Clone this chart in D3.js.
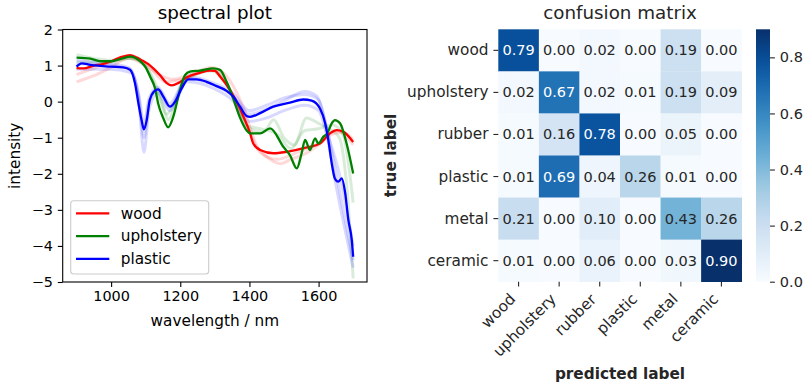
<!DOCTYPE html>
<html><head><meta charset="utf-8">
<script src="https://cdn.jsdelivr.net/npm/d3@7"></script>
<style>
body{margin:0;background:#fff}
svg{display:block}
text{font-family:"DejaVu Sans",sans-serif}
</style>
</head><body>
<svg id="c" width="810" height="387"></svg>
<script>
// ---------------- DATA ----------------
// spectral plot: mean spectra [wavelength nm, intensity]
const woodMean = [[900,0.93],[920,0.92],[950,1.0],[975,1.04],[1000,1.12],[1030,1.24],[1055,1.29],[1075,1.22],[1090,1.14],[1113,1.0],[1141,0.74],[1160,0.52],[1175,0.45],[1195,0.52],[1218,0.67],[1257,0.8],[1286,0.86],[1300,0.85],[1315,0.7],[1344,0.32],[1373,-0.2],[1382,-0.4],[1402,-0.88],[1411,-1.16],[1431,-1.34],[1469,-1.43],[1508,-1.39],[1566,-1.27],[1604,-1.16],[1633,-0.88],[1652,-0.79],[1671,-0.83],[1700,-1.12]];
const upholsteryMean = [[900,1.22],[940,1.19],[970,1.12],[1000,1.12],[1030,1.19],[1055,1.25],[1084,1.12],[1100,0.95],[1113,0.69],[1127,0.37],[1136,-0.05],[1151,-0.46],[1165,-0.71],[1180,-0.41],[1199,0.32],[1214,0.74],[1228,0.83],[1257,0.86],[1296,0.92],[1315,0.88],[1334,0.55],[1353,0.09],[1373,-0.45],[1392,-0.8],[1402,-0.88],[1431,-0.88],[1460,-0.74],[1498,-1.25],[1517,-1.48],[1537,-1.85],[1551,-1.43],[1561,-1.06],[1575,-1.34],[1590,-1.02],[1599,-1.16],[1614,-0.97],[1625,-0.88],[1638,-0.6],[1647,-0.51],[1662,-0.6],[1681,-1.16],[1700,-1.99]];
const plasticMean = [[900,0.97],[915,1.06],[940,1.02],[997,0.97],[1035,0.95],[1055,0.88],[1069,0.51],[1079,-0.05],[1088,-0.51],[1095,-0.77],[1103,-0.51],[1112,0.05],[1124,0.28],[1136,0.34],[1151,0.14],[1170,-0.14],[1185,0.0],[1204,0.37],[1223,0.62],[1247,0.62],[1276,0.55],[1305,0.43],[1334,0.3],[1353,0.14],[1373,-0.14],[1392,-0.4],[1402,-0.42],[1431,-0.32],[1469,-0.14],[1517,-0.03],[1556,0.06],[1580,0.03],[1604,-0.19],[1619,-0.6],[1628,-1.06],[1638,-1.71],[1647,-2.13],[1657,-2.22],[1667,-2.13],[1677,-2.54],[1686,-3.28],[1696,-3.84],[1700,-4.3]];
// faint individual spectra (estimated)
const woodFaintA = [[900,0.55],[950,0.72],[1000,0.95],[1050,1.2],[1100,1.0],[1150,0.7],[1180,0.62],[1220,0.72],[1290,0.95],[1330,0.75],[1380,-0.1],[1420,-1.2],[1460,-1.6],[1490,-1.72],[1520,-1.6],[1560,-1.45],[1600,-1.2],[1640,-0.9],[1670,-0.85],[1700,-1.05]];
const woodFaintB = [[900,0.75],[1000,1.1],[1050,1.25],[1100,1.05],[1160,0.55],[1200,0.6],[1290,0.9],[1340,0.4],[1390,-0.6],[1430,-1.4],[1480,-1.6],[1540,-1.4],[1600,-1.15],[1650,-0.8],[1700,-1.2]];
const upholsteryFaintA = [[900,1.3],[950,1.2],[1000,1.15],[1050,1.2],[1090,1.1],[1110,0.85],[1130,0.45],[1150,-0.1],[1165,-0.5],[1180,-0.25],[1200,0.3],[1230,0.75],[1290,0.9],[1330,0.6],[1370,-0.3],[1400,-0.75],[1440,-0.85],[1470,-0.5],[1500,-1.0],[1530,-1.2],[1565,-0.45],[1600,-0.6],[1630,-0.75],[1660,-1.0],[1680,-2.2],[1700,-4.9]];
const upholsteryFaintB = [[900,1.1],[1000,1.1],[1060,1.2],[1100,0.95],[1120,0.6],[1140,0.1],[1160,-0.35],[1180,-0.1],[1210,0.55],[1290,0.85],[1340,0.4],[1390,-0.65],[1430,-0.75],[1480,-0.9],[1520,-1.3],[1560,-0.8],[1600,-0.75],[1640,-0.65],[1670,-0.9],[1700,-2.8]];
const plasticFaintA = [[900,1.15],[950,1.1],[1050,0.95],[1080,0.2],[1095,-0.6],[1110,0.1],[1135,0.4],[1170,-0.05],[1220,0.7],[1300,0.5],[1350,0.25],[1400,-0.25],[1450,-0.1],[1500,0.1],[1560,0.2],[1600,0.05],[1630,-1.0],[1660,-2.0],[1700,-4.0]];
const plasticFaintB = [[900,0.9],[1000,0.9],[1060,0.8],[1080,0.0],[1095,-1.4],[1110,-0.2],[1135,0.25],[1170,-0.25],[1220,0.55],[1300,0.35],[1350,0.05],[1400,-0.55],[1450,-0.45],[1500,-0.25],[1560,-0.1],[1600,-0.25],[1625,-1.0],[1650,-2.3],[1700,-4.6]];
const plasticFaintC = [[900,1.05],[1000,1.0],[1055,0.9],[1080,0.1],[1095,-1.0],[1110,0.0],[1135,0.35],[1170,-0.15],[1220,0.65],[1300,0.45],[1350,0.18],[1400,-0.35],[1450,-0.2],[1500,0.02],[1560,0.28],[1595,0.15],[1625,-0.8],[1655,-2.2],[1700,-4.4]];
const spectralClasses = ["wood","upholstery","plastic"];
const spectralXTicks = [1000,1200,1400,1600];
const spectralYTicks = [-5,-4,-3,-2,-1,0,1,2];

// confusion matrix
const trueLabels = ["wood","upholstery","rubber","plastic","metal","ceramic"];
const predLabels = ["wood","upholstery","rubber","plastic","metal","ceramic"];
const confusion = [
  [0.79,0.00,0.02,0.00,0.19,0.00],
  [0.02,0.67,0.02,0.01,0.19,0.09],
  [0.01,0.16,0.78,0.00,0.05,0.00],
  [0.01,0.69,0.04,0.26,0.01,0.00],
  [0.21,0.00,0.10,0.00,0.43,0.26],
  [0.01,0.00,0.06,0.00,0.03,0.90]
];
const colorbarTicks = [0.0,0.2,0.4,0.6,0.8];
const colorMax = 0.90;

// ---------------- DRAW ----------------
const svg = d3.select("#c");
const F = "DejaVu Sans";

// ===== spectral plot =====
const L=62.7, R=367, T=29.5, B=282;
const x = d3.scaleLinear().domain([860,1740]).range([L,R]);
const y = d3.scaleLinear().domain([-5,2]).range([B,T]);
svg.append("clipPath").attr("id","clipS").append("rect").attr("x",L).attr("y",T).attr("width",R-L).attr("height",B-T);
const line = d3.line().x(d=>x(d[0])).y(d=>y(d[1])).curve(d3.curveMonotoneX);
const colors = {wood:"#ff0000", upholstery:"#008000", plastic:"#0000ff"};
const faint = [[woodFaintA,"wood"],[woodFaintB,"wood"],[upholsteryFaintA,"upholstery"],[upholsteryFaintB,"upholstery"],[plasticFaintA,"plastic"],[plasticFaintB,"plastic"],[plasticFaintC,"plastic"]];
const gl = svg.append("g").attr("clip-path","url(#clipS)");
faint.forEach(([d,c])=>{
  gl.append("path").attr("d",line(d)).attr("fill","none").attr("stroke",colors[c])
    .attr("stroke-width",3).attr("stroke-opacity",0.15).attr("stroke-linejoin","round");
});
[[woodMean,"wood"],[upholsteryMean,"upholstery"],[plasticMean,"plastic"]].forEach(([d,c])=>{
  gl.append("path").attr("d",line(d)).attr("fill","none").attr("stroke",colors[c])
    .attr("stroke-width",2.3).attr("stroke-linejoin","round");
});
// frame
svg.append("rect").attr("x",L).attr("y",T).attr("width",R-L).attr("height",B-T)
  .attr("fill","none").attr("stroke","#000").attr("stroke-width",1.1);
// axes
const xa = svg.append("g").attr("transform",`translate(0,${B})`)
  .call(d3.axisBottom(x).tickValues(spectralXTicks).tickSize(4.9).tickPadding(3.5).tickFormat(d3.format("d")));
xa.select(".domain").remove();
xa.selectAll("line").attr("stroke","#000").attr("stroke-width",1.1);
xa.selectAll("text").attr("font-family",F).attr("font-size",14.4).attr("fill","#000");
const ya = svg.append("g").attr("transform",`translate(${L},0)`)
  .call(d3.axisLeft(y).tickValues(spectralYTicks).tickSize(4.9).tickPadding(4.9).tickFormat(d=>d<0?"\u2212"+Math.abs(d):d));
ya.select(".domain").remove();
ya.selectAll("line").attr("stroke","#000").attr("stroke-width",1.1);
ya.selectAll("text").attr("font-family",F).attr("font-size",14.4).attr("fill","#000");
svg.append("text").attr("x",(L+R)/2).attr("y",19).attr("text-anchor","middle").attr("font-size",18.3).text("spectral plot");
svg.append("text").attr("x",(L+R)/2).attr("y",326).attr("text-anchor","middle").attr("font-size",15.3).text("wavelength / nm");
svg.append("text").attr("transform",`translate(20,${(T+B)/2}) rotate(-90)`).attr("text-anchor","middle").attr("font-size",15.3).text("intensity");
// legend
const lg = svg.append("g");
lg.append("rect").attr("x",70.7).attr("y",200.7).attr("width",138).attr("height",73.3).attr("rx",3)
  .attr("fill","#fff").attr("fill-opacity",0.8).attr("stroke","#cccccc").attr("stroke-width",1.1);
spectralClasses.forEach((c,i)=>{
  const ly = 213.3 + i*22.8;
  lg.append("line").attr("x1",76).attr("x2",109.3).attr("y1",ly).attr("y2",ly).attr("stroke",colors[c]).attr("stroke-width",2.2);
  lg.append("text").attr("x",120.7).attr("y",ly+5.3).attr("font-size",15.3).text(c);
});

// ===== confusion matrix =====
const HX0=498.3, HX1=741.7, HY0=29.3, HY1=281.7;
const hx = d3.scaleBand().domain(predLabels).range([HX0,HX1]);
const hy = d3.scaleBand().domain(trueLabels).range([HY0,HY1]);
const bluesStops = ["#f7fbff","#deebf7","#c6dbef","#9ecae1","#6baed6","#4292c6","#2171b5","#08519c","#08306b"];
const blues = d3.scaleLinear().domain(bluesStops.map((_,i)=>i/(bluesStops.length-1))).range(bluesStops).interpolate(d3.interpolateRgb).clamp(true);
const cmap = v => blues(v/colorMax);
const gh = svg.append("g");
confusion.forEach((row,i)=>{
  row.forEach((v,j)=>{
    gh.append("rect").attr("x",hx(predLabels[j])).attr("y",hy(trueLabels[i]))
      .attr("width",hx.bandwidth()+0.3).attr("height",hy.bandwidth()+0.3).attr("fill",cmap(v));
  });
});
confusion.forEach((row,i)=>{
  row.forEach((v,j)=>{
    gh.append("text").attr("x",hx(predLabels[j])+hx.bandwidth()/2).attr("y",hy(trueLabels[i])+hy.bandwidth()/2+5)
      .attr("text-anchor","middle").attr("font-size",14.5).attr("fill", v/colorMax>0.6?"#ffffff":"#262626").text(v.toFixed(2));
  });
});
// y axis labels
trueLabels.forEach(l=>{
  const cy = hy(l)+hy.bandwidth()/2;
  gh.append("line").attr("x1",HX0-4.9).attr("x2",HX0).attr("y1",cy).attr("y2",cy).attr("stroke","#262626").attr("stroke-width",1.1);
  gh.append("text").attr("x",HX0-9.8).attr("y",cy+5).attr("text-anchor","end").attr("font-size",15.3).attr("fill","#262626").text(l);
});
// x axis labels (rotated)
const ang = -Math.PI/4, ca=Math.cos(ang), sa=Math.sin(ang);
predLabels.forEach(l=>{
  const cx = hx(l)+hx.bandwidth()/2;
  gh.append("line").attr("x1",cx).attr("x2",cx).attr("y1",HY1).attr("y2",HY1+4.9).attr("stroke","#262626").attr("stroke-width",1.1);
  const t = gh.append("text").attr("text-anchor","end").attr("font-size",15.3).attr("fill","#262626").text(l);
  const bb = t.node().getBBox();
  const pts=[[bb.x,bb.y+2],[bb.x+bb.width,bb.y+2],[bb.x,bb.y+bb.height-1],[bb.x+bb.width,bb.y+bb.height-1]].map(([px,py])=>[px*ca-py*sa, px*sa+py*ca]);
  const mx=d3.max(pts,p=>p[0]), my=d3.min(pts,p=>p[1]);
  t.attr("transform",`translate(${cx-mx},${HY1+9.8-my}) rotate(-45)`);
});
svg.append("text").attr("x",(HX0+HX1)/2).attr("y",19).attr("text-anchor","middle").attr("font-size",18.3).attr("fill","#262626").text("confusion matrix");
svg.append("text").attr("x",(HX0+HX1)/2).attr("y",378.5).attr("text-anchor","middle").attr("font-size",15.3).attr("font-weight","bold").attr("fill","#262626").text("predicted label");
svg.append("text").attr("transform",`translate(396,${(HY0+HY1)/2}) rotate(-90)`).attr("text-anchor","middle").attr("font-size",15.3).attr("font-weight","bold").attr("fill","#262626").text("true label");

// ===== colorbar =====
const CX0=756, CX1=770;
const cy = d3.scaleLinear().domain([0,colorMax]).range([HY1,HY0]);
const grad = svg.append("defs").append("linearGradient").attr("id","cbg").attr("x1",0).attr("y1",1).attr("x2",0).attr("y2",0);
d3.range(0,1.0001,0.05).forEach(f=>grad.append("stop").attr("offset",f).attr("stop-color",blues(f)));
svg.append("rect").attr("x",CX0).attr("y",HY0).attr("width",CX1-CX0).attr("height",HY1-HY0).attr("fill","url(#cbg)");
const ca2 = svg.append("g").attr("transform",`translate(${CX1},0)`)
  .call(d3.axisRight(cy).tickValues(colorbarTicks).tickSize(4.9).tickPadding(4.9).tickFormat(d3.format(".1f")));
ca2.select(".domain").remove();
ca2.selectAll("line").attr("stroke","#262626").attr("stroke-width",1.1);
ca2.selectAll("text").attr("font-family",F).attr("font-size",14.5).attr("fill","#262626");
</script>
</body></html>
